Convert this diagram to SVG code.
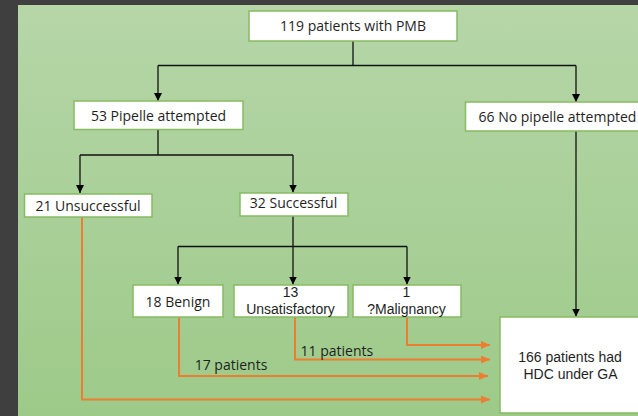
<svg xmlns="http://www.w3.org/2000/svg" width="638" height="416" viewBox="0 0 638 416">
<defs>
<linearGradient id="bg" x1="0" y1="0" x2="0" y2="1">
<stop offset="0" stop-color="#b6d6a8"/>
<stop offset="1" stop-color="#9dca89"/>
</linearGradient>
<marker id="ab" markerWidth="9" markerHeight="8" refX="8" refY="4" orient="auto" markerUnits="userSpaceOnUse">
<path d="M0,0 L8,4 L0,8 Z" fill="#000"/>
</marker>
<marker id="ao" markerWidth="10" markerHeight="8" refX="9" refY="4" orient="auto" markerUnits="userSpaceOnUse">
<path d="M0,0 L9,4 L0,8 Z" fill="#ed7d31"/>
</marker>
</defs>
<style>
.box{fill:#fff;stroke:#86bb62;stroke-width:1.5}
.t{font-family:"Open Sans","Liberation Sans",sans-serif;font-size:14px;fill:#1f1f1f}
.t2{font-family:"Liberation Sans",Arial,sans-serif;font-size:14px;fill:#1f1f1f}
.c{text-anchor:middle}
.k{fill:none;stroke:#111;stroke-width:1.3}
.o{fill:none;stroke:#ed7d31;stroke-width:2}
</style>
<rect x="0" y="0" width="638" height="416" fill="#3f3f3f"/>
<rect x="18" y="5" width="620" height="411" fill="url(#bg)"/>

<g id="connectors">
<path class="k" d="M353,41 V65.5"/>
<path class="k" d="M158,65.5 H576"/>
<path class="k" d="M158,65.5 V101" marker-end="url(#ab)"/>
<path class="k" d="M576,65.5 V102" marker-end="url(#ab)"/>
<path class="k" d="M158,129 V155 M80,155 H293"/>
<path class="k" d="M80,155 V193" marker-end="url(#ab)"/>
<path class="k" d="M293,155 V192.5" marker-end="url(#ab)"/>
<path class="k" d="M293,216 V246.5 M178,246.5 H407"/>
<path class="k" d="M178,246.5 V284.5" marker-end="url(#ab)"/>
<path class="k" d="M293,246.5 V284.5" marker-end="url(#ab)"/>
<path class="k" d="M407,246.5 V284.5" marker-end="url(#ab)"/>
<path class="k" d="M576,131 V316.5" marker-end="url(#ab)"/>
<path class="o" d="M407,317 V345 H490" marker-end="url(#ao)"/>
<path class="o" d="M295,317 V359.5 H490" marker-end="url(#ao)"/>
<path class="o" d="M179,317 V376 H488" marker-end="url(#ao)"/>
<path class="o" d="M82,217 V399.5 H490" marker-end="url(#ao)"/>
<text class="t" x="300.5" y="355.5">11 patients</text>
<text class="t c" x="231" y="369.5">17 patients</text>
</g>

<g id="n119">
<rect class="box" x="249" y="11" width="208" height="30"/>
<text class="t c" x="353" y="31">119 patients with PMB</text>
</g>
<g id="n53">
<rect class="box" x="74" y="101" width="169" height="28.5"/>
<text class="t c" x="158.5" y="120.5">53 Pipelle attempted</text>
</g>
<g id="n66">
<rect class="box" x="465.5" y="102" width="180" height="29"/>
<text class="t" x="478.5" y="122">66 No pipelle attempted</text>
</g>
<g id="n21">
<rect class="box" x="24.5" y="194" width="127.5" height="23"/>
<text class="t c" x="88" y="210.5">21 Unsuccessful</text>
</g>
<g id="n32">
<rect class="box" x="240" y="193" width="108" height="23"/>
<text class="t c" x="293.5" y="208">32 Successful</text>
</g>
<g id="n18">
<rect class="box" x="133" y="285" width="90" height="32"/>
<text class="t c" x="178" y="306.5">18 Benign</text>
</g>
<g id="n13">
<rect class="box" x="234" y="285" width="114" height="32"/>
<text class="t2 c" x="290.5" y="296.8">13</text>
<text class="t2 c" x="290.5" y="313.5">Unsatisfactory</text>
</g>
<g id="n1">
<rect class="box" x="353" y="285" width="108" height="32"/>
<text class="t2 c" x="406.5" y="296.8">1</text>
<text class="t2 c" x="406.5" y="313.5">?Malignancy</text>
</g>
<g id="n166">
<rect class="box" x="500" y="317" width="145" height="96"/>
<text class="t2 c" x="570" y="362">166 patients had</text>
<text class="t2 c" x="570.5" y="378.7">HDC under GA</text>
</g>
</svg>
